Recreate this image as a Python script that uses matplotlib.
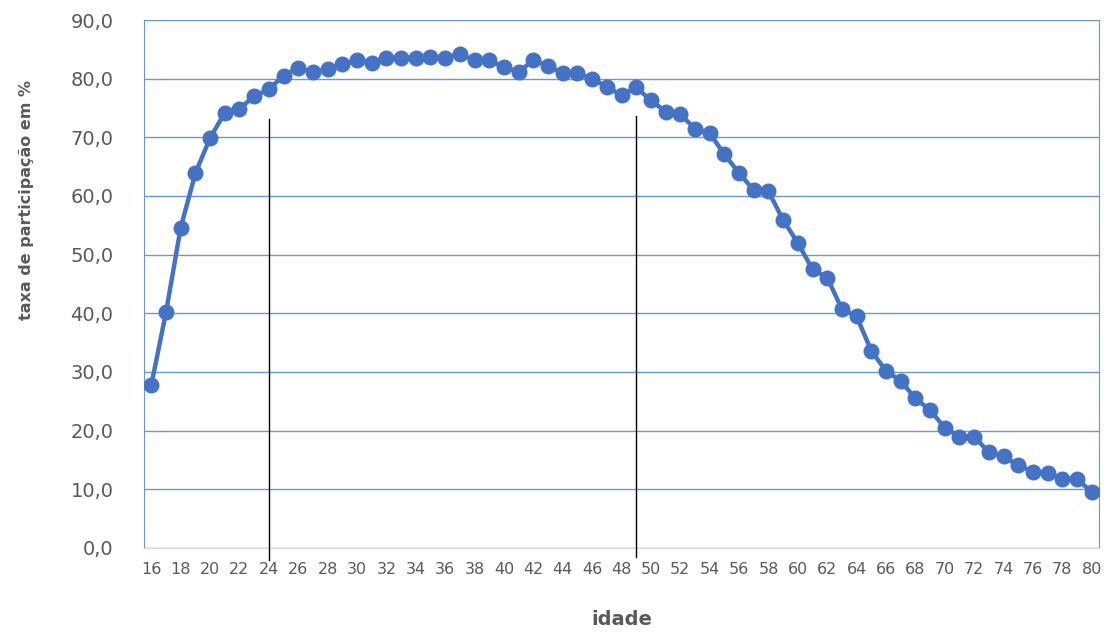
import matplotlib.pyplot as plt

idade = list(range(16, 81))
taxa = [27.8, 40.2, 54.6, 63.9, 69.9, 74.2, 74.9, 77.0, 78.2, 80.5,
        81.9, 81.1, 81.6, 82.5, 83.1, 82.7, 83.6, 83.6, 83.6, 83.7,
        83.6, 84.2, 83.1, 83.1, 82.0, 81.1, 83.2, 82.2, 80.9, 80.9,
        80.0, 78.6, 77.2, 78.5, 76.3, 74.4, 73.9, 71.5, 70.7, 67.1,
        63.9, 61.0, 60.8, 55.9, 52.0, 47.5, 46.1, 40.7, 39.5, 33.6,
        30.2, 28.5, 25.5, 23.5, 20.5, 19.0, 19.0, 16.3, 15.6, 14.1,
        13.0, 12.7, 11.8, 11.8, 9.5]

# hand-drawn marker lines (age, top, bottom)
marcas = [(24, 73.2, -2.0), (49, 73.6, -1.5)]

blue = '#4472C4'
grid_blue = '#6C94D8'
gray = '#595959'

fig = plt.figure(figsize=(11.05, 6.33), dpi=100)
ax = fig.add_axes([0.1303, 0.1343, 0.8643, 0.8341])

ax.plot(idade, taxa, color=blue, linewidth=3.2, marker='o', markersize=10.5,
        zorder=3)

for x, top, bottom in marcas:
    ax.plot([x, x], [top, bottom], color='black', linewidth=1.0,
            clip_on=False, zorder=4)

ax.set_xlim(15.5, 80.5)
ax.set_ylim(0, 90)
ax.set_yticks(range(0, 91, 10))
ax.set_yticklabels([f'{v:.1f}'.replace('.', ',') for v in range(0, 91, 10)])
ax.set_xticks(range(16, 81, 2))
ax.set_xticklabels([str(v) for v in range(16, 81, 2)])

ax.yaxis.grid(True, color=grid_blue, linewidth=1.0)
ax.set_axisbelow(True)
ax.tick_params(axis='both', length=0, colors=gray)
ax.tick_params(axis='y', labelsize=14, pad=22)
ax.tick_params(axis='x', labelsize=11.5, pad=10)

ax.spines['top'].set_visible(False)
ax.spines['left'].set_color(grid_blue)
ax.spines['right'].set_color(grid_blue)
ax.spines['bottom'].set_color('#D9D9D9')

ax.set_xlabel('idade', fontsize=14, fontweight='bold', color=gray,
              labelpad=24)
fig.text(0.024, 0.684, 'taxa de participação em %', rotation=90,
         fontsize=11.5, fontweight='bold', color=gray,
         ha='center', va='center')

fig.savefig('out.png', dpi=100)
